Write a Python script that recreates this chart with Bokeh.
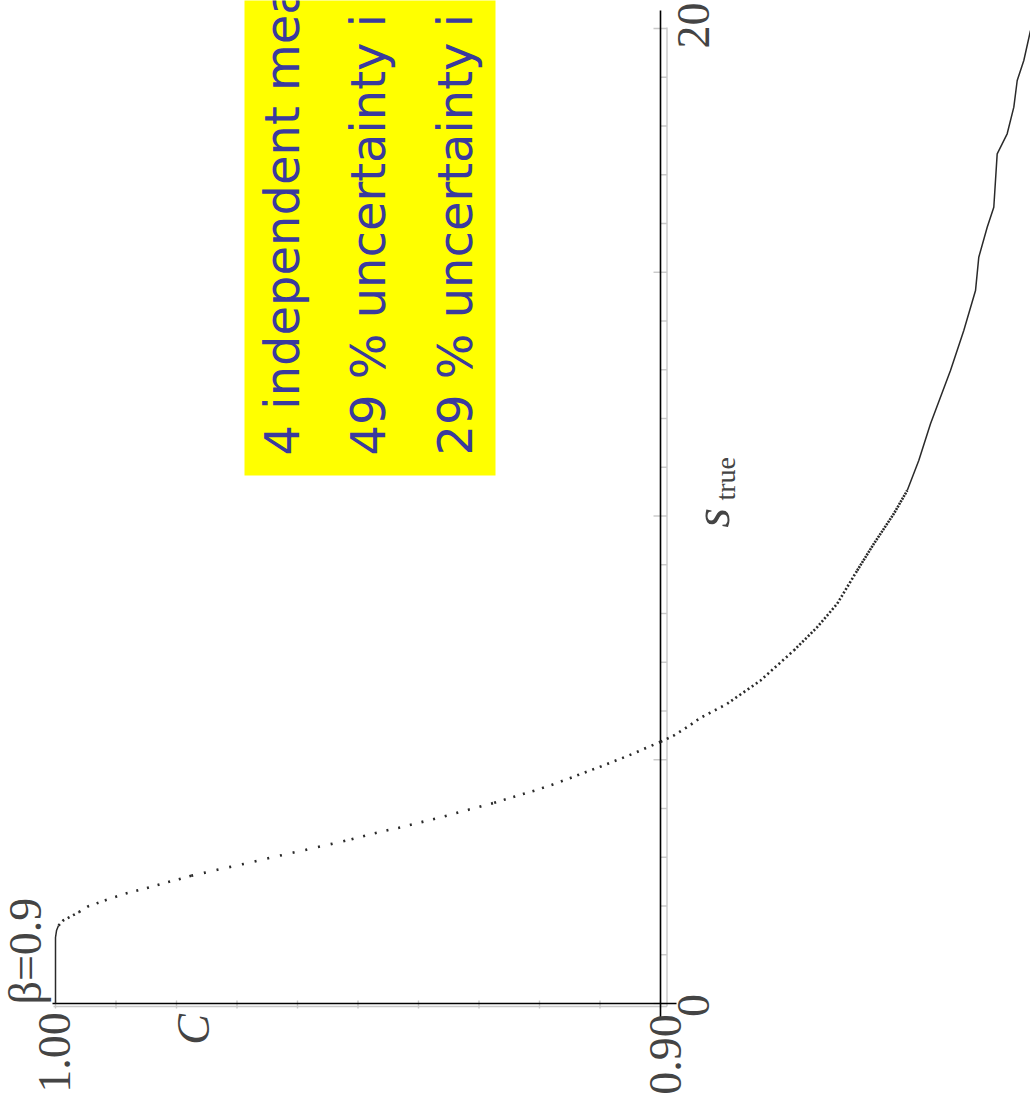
import math

from bokeh.core.properties import value
from bokeh.embed import file_html
from bokeh.models import Range1d
from bokeh.plotting import figure
from bokeh.resources import INLINE

# Coverage C as a function of the true signal s_true (beta = 0.9)
s_true = [0.0, 1.354, 1.497, 1.600, 1.703, 1.758, 1.819, 1.873, 1.990, 2.113,
          2.250, 2.365, 2.488, 2.619, 2.743, 2.866, 2.995, 3.118, 3.241, 3.370,
          3.493, 3.616, 3.740, 3.871, 3.994, 4.117, 4.246, 4.369, 4.492, 4.622,
          4.745, 4.868, 4.999, 5.122, 5.245, 5.368, 5.497, 5.688, 5.860, 6.148,
          6.626, 7.241, 7.719, 8.199, 8.882, 9.430, 10.045, 10.523, 11.138, 11.891,
          12.985, 13.805, 14.626, 15.309, 15.924, 16.334, 17.429, 17.840, 18.386, 18.933,
          19.344, 19.959]
coverage = [1.0000, 1.0000, 0.99983, 0.99950, 0.99873, 0.99790, 0.99698, 0.99615, 0.99466, 0.99185,
            0.98860, 0.98501, 0.98144, 0.97757, 0.97327, 0.96876, 0.96430, 0.95988, 0.95549, 0.95107,
            0.94727, 0.94286, 0.93889, 0.93476, 0.93119, 0.92749, 0.92408, 0.92078, 0.91780, 0.91499,
            0.91240, 0.90975, 0.90706, 0.90458, 0.90231, 0.90000, 0.89780, 0.89537, 0.89339, 0.88898,
            0.88347, 0.87797, 0.87410, 0.87080, 0.86749, 0.86474, 0.86144, 0.85922, 0.85731, 0.85537,
            0.85207, 0.84987, 0.84793, 0.84739, 0.84600, 0.84491, 0.84435, 0.84270, 0.84160, 0.84104,
            0.83995, 0.83884]

# Axis ticks
c_ticks = [0.90, 0.91, 0.92, 0.93, 0.94, 0.95, 0.96, 0.97, 0.98, 0.99, 1.00]
s_minor_ticks = [1, 2, 3, 4, 6, 7, 8, 9, 11, 12, 13, 14, 16, 17, 18, 19]
s_major_ticks = [0, 5, 10, 15, 20]
c_tick_labels = ["1.00", "0.90"]
s_tick_labels = ["0", "20"]

info_lines = ["4 independent mea", "49 % uncertainty i", "29 % uncertainty i"]

W, H = 1030, 1110

# page is laid out a quarter turn: C runs left-to-right (decreasing), s_true bottom-to-top
C_AT_LEFT, PX_PER_C = 1.0, 6050.0
C_LEFT_PX = 55.0
S0_PY, PX_PER_S = 1003.0, 48.75


def cx(px):
    return C_AT_LEFT - (px - C_LEFT_PX) / PX_PER_C


def sy(py):
    return (S0_PY - py) / PX_PER_S


p = figure(width=W, height=H, x_range=Range1d(cx(0), cx(W)), y_range=Range1d(sy(H), sy(0)),
           output_backend="svg", toolbar_location=None, min_border=0,
           x_axis_location=None, y_axis_location=None)
p.grid.visible = False
p.outline_line_color = None
p.background_fill_color = "white"
p.border_fill_color = "white"


def vtext(txt, base_px, py, size, font, color, align="left", style="normal", shift=0.37):
    """Text running bottom-to-top; base_px is where the glyph baseline should sit."""
    p.text(x=[cx(base_px - shift * size)], y=[sy(py)], text=[txt], angle=math.pi / 2,
           text_align=align, text_baseline="alphabetic", text_font=value(font),
           text_font_style=style, text_font_size=value(f"{size}px"), text_color=color)


# info box
p.quad(left=[cx(244)], right=[cx(495)], top=[sy(-20)], bottom=[sy(475)],
       fill_color="#ffff00", line_color=None)
for line, base_px in zip(info_lines, [302, 388, 475]):
    vtext(line, base_px, 455, 48, "DejaVu Sans", "#3a3a9e", shift=0.42)

# grey axes with ticks
GREY = "#c8c8c8"
p.line([cx(53), cx(666.5)], [sy(1006), sy(1006)], line_color=GREY, line_width=1.4)
p.line([cx(666.5), cx(666.5)], [sy(1006), sy(27)], line_color=GREY, line_width=1.4)
p.segment(x0=c_ticks, y0=[sy(1000)] * len(c_ticks), x1=c_ticks, y1=[sy(1008)] * len(c_ticks),
          line_color=GREY, line_width=1.4)
p.segment(x0=[cx(659.5)] * len(s_minor_ticks), y0=s_minor_ticks,
          x1=[cx(666.5)] * len(s_minor_ticks), y1=s_minor_ticks, line_color=GREY, line_width=1.4)
p.segment(x0=[cx(653)] * len(s_major_ticks), y0=s_major_ticks,
          x1=[cx(666.5)] * len(s_major_ticks), y1=s_major_ticks, line_color=GREY, line_width=1.4)

# black crossing lines at s=0 and C=0.90
p.line([cx(52), cx(676)], [0.0, 0.0], line_color="black", line_width=1.6)
p.line([0.90, 0.90], [sy(1018), sy(10)], line_color="black", line_width=1.6)

# curve: sampled points drawn as dots, spacing follows the local slope
CURVE = "#2a2a2a"
pieces = [
    (0.0, 1.600, None),
    (1.600, 1.873, "2 4"),
    (1.873, 2.113, "2 8"),
    (2.113, 2.619, "2 9"),
    (2.619, 3.370, "2 11"),
    (3.370, 4.117, "2 10"),
    (4.117, 4.622, "2 8"),
    (4.622, 5.368, "2 6"),
    (5.368, 6.148, "2 5"),
    (6.148, 7.241, "2 3"),
    (7.241, 8.882, "2 2"),
    (8.882, 10.523, "2 1"),
    (10.523, 19.959, None),
]
for lo, hi, dash in pieces:
    idx = [i for i, s in enumerate(s_true) if lo - 1e-9 <= s <= hi + 1e-9]
    xs = [coverage[i] for i in idx]
    ys = [s_true[i] for i in idx]
    if dash is None:
        p.line(xs, ys, line_color=CURVE, line_width=1.5, line_join="round")
    else:
        p.line(xs, ys, line_color=CURVE, line_width=2.6, line_dash=dash, line_cap="butt")

SERIF = "Liberation Serif"
LABEL = "#444444"

# tick labels
for txt, base_px, mid_py in zip(c_tick_labels, [71, 682], [1052, 1054]):
    vtext(txt, base_px, mid_py, 46, SERIF, LABEL, align="center")
for txt, base_px, mid_py in zip(s_tick_labels, [710, 710], [1005, 25]):
    vtext(txt, base_px, mid_py, 46, SERIF, LABEL, align="center")

# axis names and parameter label
vtext("C", 210, 1029, 46, SERIF, LABEL, align="center", style="italic")
vtext("s", 730, 527, 50, SERIF, LABEL, style="italic")
vtext("true", 735, 500, 28, SERIF, LABEL)
vtext("β=0.9", 42, 1004, 46, SERIF, LABEL)

open("out.html", "w").write(file_html(p, INLINE))
